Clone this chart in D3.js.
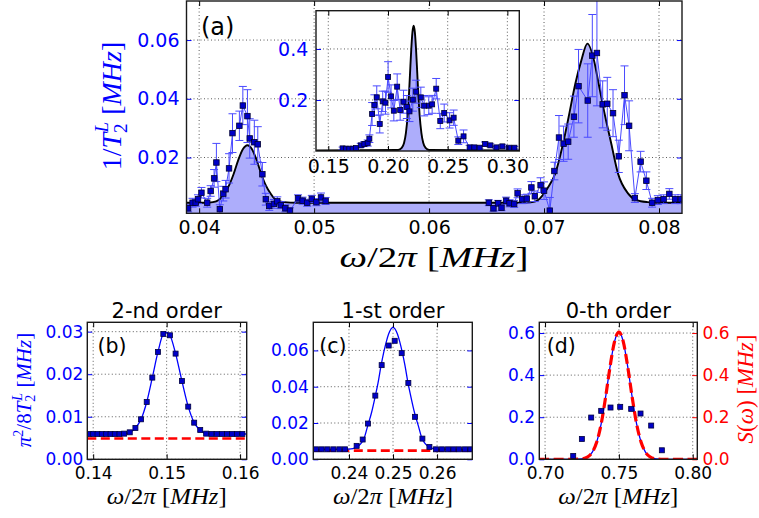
<!DOCTYPE html>
<html><head><meta charset="utf-8">
<script src="https://cdn.jsdelivr.net/npm/d3@7"></script>
<style>body{margin:0;background:#fff}svg{display:block}</style>
</head><body>
<svg id="c" width="759" height="518"></svg>
<script>
// ---------------- DATA ----------------
// Panel (a): measured 1/T2 vs omega/2pi
const mainX = [0.03904,0.03943,0.0397,0.0399,0.0402,0.0407,0.0410,0.0413,0.0415,0.0418,0.0421,0.0423,0.0426,0.0429,0.0435,0.0438,0.0442,0.0444,0.0448,0.0451,0.0455,0.0458,0.0461,0.0465,0.0468,0.0471,0.0475,0.0479,0.0486,0.0490,0.0494,0.0498,0.0502,0.0506,0.0510,
  0.0652,0.0656,0.0660,0.0663,0.0667,0.0670,0.0674,0.0677,0.0681,0.0685,0.0689,0.0692,0.0697,0.0700,0.0705,0.0709,0.0713,0.0717,0.0721,0.0726,0.0730,0.0738,0.0742,0.0746,0.0751,0.0755,0.0760,0.0765,0.0770,0.0774,0.0779,0.0784,0.0789,0.0794,0.0799,0.0804,0.0809,0.0814,0.0819];
const mainY = [0.0027,0.0046,0.0046,0.0058,0.0080,0.0046,0.0086,0.0129,0.0183,0.0024,0.0077,0.0092,0.0163,0.0283,0.0308,0.0377,0.0341,0.0265,0.0252,0.0245,0.0143,0.0058,0.0035,0.0042,0.0051,0.0038,0.0027,0.0019,0.0061,0.0053,0.0046,0.0059,0.0048,0.0064,0.0052,
  0.0046,0.0027,0.0044,0.0029,0.0053,0.0044,0.0042,0.0078,0.0058,0.0060,0.0098,0.0068,0.0106,0.0087,0.0019,0.0154,0.0268,0.0247,0.0254,0.0339,0.0443,0.0394,0.0547,0.0556,0.0381,0.0383,0.0351,0.0204,0.0412,0.0308,0.0062,0.0186,0.0121,0.0046,0.0055,0.0058,0.0076,0.0058,0.0058];
const mainErr = [0.0012,0.0015,0.0012,0.0015,0.0018,0.0015,0.0018,0.0030,0.0065,0.0015,0.0025,0.0030,0.0050,0.0066,0.0050,0.0065,0.0090,0.0067,0.0075,0.0060,0.0040,0.0020,0.0015,0.0015,0.0015,0.0012,0.0012,0.0010,0.0012,0.0012,0.0012,0.0012,0.0012,0.0015,0.0012,
  0.0010,0.0010,0.0010,0.0010,0.0012,0.0012,0.0012,0.0015,0.0015,0.0015,0.0020,0.0018,0.0025,0.0030,0.0045,0.0030,0.0075,0.0060,0.0060,0.0070,0.0125,0.0125,0.0140,0.0180,0.0080,0.0090,0.0080,0.0055,0.0100,0.0085,0.0015,0.0035,0.0030,0.0015,0.0015,0.0015,0.0018,0.0015,0.0015];
// Panel (a): fitted curve
const fitAX = [0.0389,0.0405,0.0412,0.0417,0.0422,0.0426,0.0430,0.0434,0.0438,0.0442,0.0446,0.0450,0.0454,0.0458,0.0462,0.0467,0.0474,0.0485,0.0600,0.0680,0.0690,0.06948,0.0703,0.07098,0.07165,0.07214,0.07272,0.07324,0.07377,0.07435,0.07475,0.07533,0.07585,0.07643,0.0773,0.07803,0.0790,0.0800,0.0821];
const fitAY = [0.0046,0.0046,0.0048,0.0055,0.0078,0.0105,0.0144,0.0191,0.0228,0.0242,0.0228,0.0191,0.0144,0.0105,0.0078,0.0055,0.0048,0.0046,0.0046,0.0046,0.0048,0.0055,0.0095,0.0146,0.0247,0.0338,0.0451,0.0530,0.0588,0.0530,0.0451,0.0338,0.0247,0.0146,0.0078,0.0055,0.0048,0.0046,0.0046];
// Inset
const insetX = [0.1620,0.1648,0.1676,0.1704,0.1732,0.1772,0.1802,0.1830,0.1844,0.1867,0.1886,0.1906,0.1931,0.1956,0.1979,0.2001,0.2026,0.2049,0.2077,0.2102,0.2130,0.2158,0.2180,0.2208,0.2236,0.2275,0.2303,0.2342,0.2370,0.2404,0.2438,0.2471,0.2516,0.2550,0.2589,0.2633,0.2684,0.2723,0.2768,0.2813,0.2857,0.2908,0.2958,0.3014,0.3059];
const insetY = [0.0103,0.0090,0.0090,0.0090,0.0116,0.0221,0.0273,0.0312,0.0482,0.1450,0.1803,0.2103,0.1058,0.1946,0.1894,0.2901,0.2142,0.1580,0.2522,0.1607,0.1933,0.1724,0.1554,0.2012,0.2325,0.2103,0.1776,0.1776,0.1829,0.2443,0.1175,0.1489,0.1201,0.1306,0.0404,0.0574,0.0142,0.0142,0.0129,0.0273,0.0221,0.0142,0.0182,0.0129,0.0129];
const insetErr = [0.005,0.004,0.004,0.004,0.005,0.008,0.010,0.012,0.015,0.045,0.040,0.045,0.035,0.040,0.045,0.060,0.045,0.040,0.050,0.040,0.045,0.045,0.040,0.045,0.045,0.040,0.040,0.035,0.035,0.040,0.030,0.035,0.030,0.030,0.015,0.025,0.008,0.006,0.005,0.008,0.006,0.005,0.006,0.005,0.005];
const fitInsetX = [0.140,0.2085,0.2115,0.2135,0.2150,0.2165,0.2175,0.2185,0.2195,0.2205,0.2215,0.2225,0.2235,0.2245,0.2255,0.2265,0.2280,0.2295,0.2315,0.2345,0.310];
const fitInsetY = [0.0024,0.004,0.012,0.032,0.070,0.140,0.214,0.308,0.399,0.466,0.491,0.466,0.399,0.308,0.214,0.140,0.070,0.032,0.012,0.004,0.0024];
// Panel (b) 2-nd order
const bX = [0.13942,0.14000,0.14059,0.14118,0.14177,0.14236,0.14294,0.14358,0.14421,0.14498,0.14575,0.14652,0.14729,0.14805,0.14882,0.14955,0.15045,0.15122,0.15208,0.15294,0.15375,0.15457,0.15538,0.15611,0.15683,0.15755,0.15823,0.15891,0.15959,0.16031];
const bY = [0.00595,0.00595,0.00595,0.00595,0.00595,0.00595,0.00595,0.00595,0.00603,0.00634,0.00736,0.00940,0.01347,0.01920,0.02523,0.02946,0.02915,0.02484,0.01841,0.01238,0.00861,0.00689,0.00603,0.00595,0.00595,0.00595,0.00595,0.00595,0.00595,0.00595];
const fitBX = [0.1392,0.14294,0.14421,0.14498,0.14575,0.14652,0.14729,0.14805,0.14882,0.14955,0.1500,0.15045,0.15122,0.15208,0.15294,0.15375,0.15457,0.15538,0.15611,0.1609];
const fitBY = [0.00595,0.00595,0.00603,0.00634,0.00736,0.00940,0.01347,0.01920,0.02523,0.02946,0.02980,0.02915,0.02484,0.01841,0.01238,0.00861,0.00689,0.00603,0.00595,0.00595];
const bRef = 0.0049;
// Panel (c) 1-st order
const cX = [0.2325,0.23379,0.23508,0.23644,0.2378,0.23909,0.24174,0.24311,0.24432,0.24598,0.24742,0.24902,0.25038,0.25197,0.25348,0.2550,0.25667,0.25826,0.25977,0.26114,0.2625,0.26371,0.2650,0.26636,0.26758];
const cY = [0.0055,0.0055,0.0055,0.0055,0.0055,0.0055,0.0074,0.0109,0.0197,0.0351,0.0519,0.0627,0.0653,0.0585,0.0421,0.0234,0.0114,0.0068,0.0055,0.0055,0.0055,0.0055,0.0055,0.0055,0.0055];
const fitCX = [0.232,0.2400,0.2418,0.2434,0.2442,0.2451,0.2460,0.2466,0.2473,0.2485,0.2490,0.2500,0.2510,0.2515,0.2527,0.2534,0.2540,0.2549,0.2558,0.2566,0.2582,0.2600,0.268];
const fitCY = [0.0055,0.0056,0.0068,0.0114,0.0180,0.0255,0.0351,0.0421,0.0519,0.0650,0.0690,0.0727,0.0690,0.0650,0.0519,0.0421,0.0351,0.0255,0.0180,0.0114,0.0068,0.0056,0.0055];
const cRef = 0.0048;
// Panel (d) 0-th order
const dX = [0.71906,0.72493,0.73125,0.73802,0.74433,0.75088,0.75833,0.76465,0.77187,0.77909];
const dY = [0.0159,0.0968,0.1984,0.2302,0.2460,0.2492,0.2397,0.2175,0.1603,0.0429];
const fitDX = [0.696,0.720,0.725,0.729,0.732,0.735,0.738,0.741,0.744,0.747,0.750,0.753,0.756,0.759,0.762,0.765,0.768,0.771,0.775,0.780,0.803];
const fitDY = [0,0,0.002,0.012,0.034,0.082,0.168,0.295,0.439,0.558,0.605,0.558,0.439,0.295,0.168,0.082,0.034,0.012,0.002,0,0];
// Tick values / labels
const aXTicks = [0.04,0.05,0.06,0.07,0.08], aXLabels = ["0.04","0.05","0.06","0.07","0.08"];
const aYTicks = [0.02,0.04,0.06], aYLabels = ["0.02","0.04","0.06"];
const inXTicks = [0.15,0.20,0.25,0.30], inXLabels = ["0.15","0.20","0.25","0.30"];
const inYTicks = [0.2,0.4], inYLabels = ["0.2","0.4"];
const bXTicks = [0.14,0.15,0.16], bXLabels = ["0.14","0.15","0.16"];
const bYTicks = [0,0.01,0.02,0.03], bYLabels = ["0.00","0.01","0.02","0.03"];
const cXTicks = [0.24,0.25,0.26], cXLabels = ["0.24","0.25","0.26"];
const cYTicks = [0,0.02,0.04,0.06], cYLabels = ["0.00","0.02","0.04","0.06"];
const dXTicks = [0.70,0.75,0.80], dXLabels = ["0.70","0.75","0.80"];
const dYTicks = [0,0.2,0.4,0.6], dYLabels = ["0.0","0.2","0.4","0.6"];
const titles = ["2-nd order","1-st order","0-th order"];

// ---------------- DRAWING ----------------
const svg = d3.select("#c");
const SANS = "'DejaVu Sans', sans-serif";
const MATH = "'Liberation Serif', 'DejaVu Serif', serif";
const BLUE = "#0000ff", RED = "#ff0000", DARKB = "#0000c8";
const ERRB = "#4a4aff", FILL = "#adadfb";
let clipN = 0;

function panel(o){
  const g = svg.append("g");
  const x = d3.scaleLinear().domain(o.xd).range([o.L, o.R]);
  const y = d3.scaleLinear().domain(o.yd).range([o.B, o.T]);
  const id = "clip" + (clipN++);
  svg.append("clipPath").attr("id", id).append("rect")
    .attr("x", o.L).attr("y", o.T).attr("width", o.R - o.L).attr("height", o.B - o.T);
  g.append("rect").attr("x", o.L).attr("y", o.T).attr("width", o.R - o.L).attr("height", o.B - o.T).attr("fill", "#fff");
  const grid = g.append("g").attr("stroke", "#000").attr("stroke-width", 0.8).attr("stroke-dasharray", "1,2.5").attr("opacity", 0.8);
  o.xt.forEach(v => grid.append("line").attr("x1", x(v)).attr("x2", x(v)).attr("y1", o.T).attr("y2", o.B));
  o.yt.forEach(v => grid.append("line").attr("y1", y(v)).attr("y2", y(v)).attr("x1", o.L).attr("x2", o.R));
  const content = g.append("g").attr("clip-path", `url(#${id})`);
  return {g, x, y, content, o};
}

function finish(p){
  const {g, x, y, o} = p;
  const fs = o.fs;
  const fmtX = d => o.xl[o.xt.indexOf(d)];
  const fmtY = d => o.yl[o.yt.indexOf(d)];
  const ax = g.append("g").attr("transform", `translate(0,${o.B})`)
    .call(d3.axisBottom(x).tickValues(o.xt).tickFormat(fmtX).tickSizeInner(-5).tickSizeOuter(0).tickPadding(o.xpad));
  const axT = g.append("g").attr("transform", `translate(0,${o.T})`)
    .call(d3.axisTop(x).tickValues(o.xt).tickFormat("").tickSizeInner(-5).tickSizeOuter(0));
  const ay = g.append("g").attr("transform", `translate(${o.L},0)`)
    .call(d3.axisLeft(y).tickValues(o.yt).tickFormat(fmtY).tickSizeInner(-5).tickSizeOuter(0).tickPadding(o.ypad));
  const ayR = g.append("g").attr("transform", `translate(${o.R},0)`)
    .call(d3.axisRight(y).tickValues(o.yt).tickFormat(o.rightLabels ? fmtY : "").tickSizeInner(-5).tickSizeOuter(0).tickPadding(o.ypad + 1));
  [ax, axT, ay, ayR].forEach(a => { a.select(".domain").remove(); a.selectAll("text").attr("font-family", SANS).attr("font-size", fs); });
  ax.selectAll("line").attr("stroke", "#000");
  axT.selectAll("line").attr("stroke", "#000");
  ax.selectAll("text").attr("fill", "#000");
  ay.selectAll("line").attr("stroke", o.yc);
  ay.selectAll("text").attr("fill", o.yc);
  ayR.selectAll("line").attr("stroke", o.yc2 || o.yc);
  ayR.selectAll("text").attr("fill", o.yc2 || o.yc);
  g.append("rect").attr("x", o.L).attr("y", o.T).attr("width", o.R - o.L).attr("height", o.B - o.T)
    .attr("fill", "none").attr("stroke", "#1a1a1a").attr("stroke-width", 1.4);
}

function errData(c, x, y, xs, ys, es, capW, sw){
  const eg = c.append("g").attr("stroke", ERRB).attr("stroke-width", sw);
  xs.forEach((v, i) => {
    const px = x(v), y1 = y(ys[i] - es[i]), y2 = y(ys[i] + es[i]);
    eg.append("line").attr("x1", px).attr("x2", px).attr("y1", y1).attr("y2", y2);
    eg.append("line").attr("x1", px - capW).attr("x2", px + capW).attr("y1", y1).attr("y2", y1);
    eg.append("line").attr("x1", px - capW).attr("x2", px + capW).attr("y1", y2).attr("y2", y2);
  });
}
function segLine(c, x, y, xs, ys, gap, color, sw){
  const pts = xs.map((v, i) => [v, ys[i]]);
  const segs = [[]];
  pts.forEach((p, i) => { if (i > 0 && p[0] - pts[i-1][0] > gap) segs.push([]); segs[segs.length-1].push(p); });
  const ln = d3.line().x(d => x(d[0])).y(d => y(d[1]));
  segs.forEach(s => c.append("path").attr("d", ln(s)).attr("fill", "none").attr("stroke", color).attr("stroke-width", sw));
}
function markers(c, x, y, xs, ys, s, fill, stroke){
  c.append("g").selectAll("rect").data(xs.map((v, i) => [v, ys[i]])).join("rect")
    .attr("x", d => x(d[0]) - s/2).attr("y", d => y(d[1]) - s/2).attr("width", s).attr("height", s)
    .attr("fill", fill).attr("stroke", stroke).attr("stroke-width", 0.8);
}
function fitCurve(c, x, y, xs, ys, color, sw, fillColor, dash){
  const pts = xs.map((v, i) => [v, ys[i]]);
  if (fillColor) {
    const ar = d3.area().x(d => x(d[0])).y0(y(0)).y1(d => y(d[1])).curve(d3.curveMonotoneX);
    c.append("path").attr("d", ar(pts)).attr("fill", fillColor).attr("stroke", "none");
  }
  const ln = d3.line().x(d => x(d[0])).y(d => y(d[1])).curve(d3.curveMonotoneX);
  const p = c.append("path").attr("d", ln(pts)).attr("fill", "none").attr("stroke", color).attr("stroke-width", sw);
  if (dash) p.attr("stroke-dasharray", dash);
}

// ---- Panel (a) ----
const A = panel({L:186.5, R:682, T:1, B:213.3, xd:[0.0389,0.0820], yd:[0.001,0.0733], xt:aXTicks, yt:aYTicks});
fitCurve(A.content, A.x, A.y, fitAX, fitAY, "#000", 1.9, FILL);
errData(A.content, A.x, A.y, mainX, mainY, mainErr, 4, 1);
segLine(A.content, A.x, A.y, mainX, mainY, 0.005, ERRB, 1);
markers(A.content, A.x, A.y, mainX, mainY, 5.5, DARKB, "#000030");
finish(Object.assign(A, {o: Object.assign(A.o, {xl:aXLabels, yl:aYLabels, fs:19, xpad:7.2, ypad:7, yc:BLUE})}));

// ---- Inset ----
const I = panel({L:316, R:519.3, T:10.7, B:151, xd:[0.1397,0.3100], yd:[0,0.55], xt:inXTicks, yt:inYTicks});
fitCurve(I.content, I.x, I.y, fitInsetX, fitInsetY, "#000", 1.9, FILL);
errData(I.content, I.x, I.y, insetX, insetY, insetErr, 4, 1);
segLine(I.content, I.x, I.y, insetX, insetY, 1, ERRB, 1);
markers(I.content, I.x, I.y, insetX, insetY, 5, DARKB, "#000030");
finish(Object.assign(I, {o: Object.assign(I.o, {xl:inXLabels, yl:inYLabels, fs:19, xpad:8.2, ypad:7.7, yc:BLUE})}));

svg.append("text").attr("x", 201).attr("y", 34.5).attr("font-family", SANS).attr("font-size", 24).text("(a)");

// ---- Panel (b) ----
const Bp = panel({L:87.3, R:246.7, T:322.3, B:459.3, xd:[0.1392,0.1609], yd:[0,0.0322], xt:bXTicks, yt:bYTicks});
Bp.content.append("line").attr("x1", 87.3).attr("x2", 246.7).attr("y1", Bp.y(bRef)).attr("y2", Bp.y(bRef))
  .attr("stroke", RED).attr("stroke-width", 2.6).attr("stroke-dasharray", "9,4.5");
fitCurve(Bp.content, Bp.x, Bp.y, fitBX, fitBY, BLUE, 1.3);
markers(Bp.content, Bp.x, Bp.y, bX, bY, 5, DARKB, "#000040");
finish(Object.assign(Bp, {o: Object.assign(Bp.o, {xl:bXLabels, yl:bYLabels, fs:17, xpad:7.2, ypad:4, yc:BLUE})}));

// ---- Panel (c) ----
const Cp = panel({L:313.3, R:472.3, T:322.3, B:459.3, xd:[0.2319,0.2680], yd:[0,0.0755], xt:cXTicks, yt:cYTicks});
Cp.content.append("line").attr("x1", 313.3).attr("x2", 472.3).attr("y1", Cp.y(cRef)).attr("y2", Cp.y(cRef))
  .attr("stroke", RED).attr("stroke-width", 2.6).attr("stroke-dasharray", "9,4.5");
fitCurve(Cp.content, Cp.x, Cp.y, fitCX, fitCY, BLUE, 1.3);
markers(Cp.content, Cp.x, Cp.y, cX, cY, 5, DARKB, "#000040");
finish(Object.assign(Cp, {o: Object.assign(Cp.o, {xl:cXLabels, yl:cYLabels, fs:17, xpad:7.2, ypad:4.5, yc:BLUE})}));

// ---- Panel (d) ----
const Dp = panel({L:539.3, R:697.3, T:322.3, B:459.3, xd:[0.6961,0.8031], yd:[0,0.651], xt:dXTicks, yt:dYTicks});
fitCurve(Dp.content, Dp.x, Dp.y, fitDX, fitDY, BLUE, 1.3);
fitCurve(Dp.content, Dp.x, Dp.y, fitDX, fitDY, RED, 3.2, null, "10,4.5");
markers(Dp.content, Dp.x, Dp.y, dX, dY, 5, DARKB, "#000040");
finish(Object.assign(Dp, {o: Object.assign(Dp.o, {xl:dXLabels, yl:dYLabels, fs:17, xpad:7.2, ypad:4.3, yc:BLUE, yc2:RED, rightLabels:true})}));

// titles and panel letters
[[166.7, titles[0]], [393, titles[1]], [618.3, titles[2]]].forEach(([cx, t]) =>
  svg.append("text").attr("x", cx).attr("y", 318).attr("text-anchor", "middle").attr("font-family", SANS).attr("font-size", 21).text(t));
[[97.5, "(b)"], [319.3, "(c)"], [546.7, "(d)"]].forEach(([lx, t]) =>
  svg.append("text").attr("x", lx).attr("y", 353).attr("font-family", SANS).attr("font-size", 20.5).text(t));

// ---- math labels ----
function omegaLabel(cx, by, fs, len){
  const t = svg.append("text").attr("x", cx).attr("y", by).attr("text-anchor", "middle")
    .attr("font-family", MATH).attr("font-size", fs).attr("fill", "#000")
    .attr("textLength", len).attr("lengthAdjust", "spacingAndGlyphs");
  t.append("tspan").attr("font-style", "italic").text("ω");
  t.append("tspan").text("/2");
  t.append("tspan").attr("font-style", "italic").text("π");
  t.append("tspan").text(" [");
  t.append("tspan").attr("font-style", "italic").text("MHz");
  t.append("tspan").text("]");
}
omegaLabel(434, 267, 30, 189);
omegaLabel(166.7, 504, 23, 120);
omegaLabel(393, 504, 23, 120);
omegaLabel(618.3, 504, 23, 120);

// main y label  1/T_2^L [MHz]
(function(){
  const t = svg.append("text").attr("transform", "translate(121,106) rotate(-90)").attr("text-anchor", "middle")
    .attr("font-family", MATH).attr("font-size", 28).attr("fill", BLUE);
  t.append("tspan").text("1/");
  t.append("tspan").attr("font-style", "italic").text("T");
  t.append("tspan").attr("font-size", 19).attr("dy", 6).text("2");
  t.append("tspan").attr("font-size", 19).attr("font-style", "italic").attr("dx", -9).attr("dy", -19).text("L");
  t.append("tspan").attr("dy", 13).text(" [");
  t.append("tspan").attr("font-style", "italic").text("MHz");
  t.append("tspan").text("]");
})();
// panel b y label  pi^2/8T_2^L [MHz]
(function(){
  const t = svg.append("text").attr("transform", "translate(31,390) rotate(-90)").attr("text-anchor", "middle")
    .attr("font-family", MATH).attr("font-size", 21).attr("fill", BLUE);
  t.append("tspan").attr("font-style", "italic").text("π");
  t.append("tspan").attr("font-size", 14).attr("dy", -8).text("2");
  t.append("tspan").attr("dy", 8).text("/8");
  t.append("tspan").attr("font-style", "italic").text("T");
  t.append("tspan").attr("font-size", 14).attr("dy", 4).text("2");
  t.append("tspan").attr("font-size", 14).attr("font-style", "italic").attr("dx", -6).attr("dy", -13).text("L");
  t.append("tspan").attr("dy", 9).text(" [");
  t.append("tspan").attr("font-style", "italic").text("MHz");
  t.append("tspan").text("]");
})();
// panel d right label  S(omega) [MHz]
(function(){
  const t = svg.append("text").attr("transform", "translate(753,389) rotate(-90)").attr("text-anchor", "middle")
    .attr("font-family", MATH).attr("font-size", 23).attr("fill", RED);
  t.append("tspan").attr("font-style", "italic").text("S");
  t.append("tspan").text("(");
  t.append("tspan").attr("font-style", "italic").text("ω");
  t.append("tspan").text(") [");
  t.append("tspan").attr("font-style", "italic").text("MHz");
  t.append("tspan").text("]");
})();
</script>
</body></html>
